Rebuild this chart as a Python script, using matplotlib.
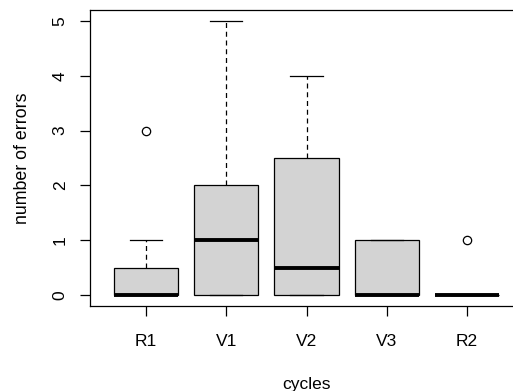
import matplotlib
matplotlib.use("Agg")
import matplotlib.pyplot as plt

categories = ["R1", "V1", "V2", "V3", "R2"]
q1 = [0, 0, 0, 0, 0]
medians = [0, 1, 0.5, 0, 0]
q3 = [0.5, 2, 2.5, 1, 0]
whislo = [0, 0, 0, 0, 0]
whishi = [1, 5, 4, 1, 0]
outliers = [[3], [], [], [], [1]]
yticks = [0, 1, 2, 3, 4, 5]

plt.rcParams['font.family'] = ['Liberation Sans', 'DejaVu Sans']

fig = plt.figure(figsize=(5.13, 3.91), dpi=100)
ax = fig.add_axes([90/513, 1-306/391, 433/513, 296/391])

stats = []
for i, c in enumerate(categories):
    stats.append(dict(label=c, q1=q1[i], med=medians[i], q3=q3[i],
                      whislo=whislo[i], whishi=whishi[i], fliers=outliers[i]))

ax.bxp(stats, positions=range(1, len(categories)+1), widths=0.8,
       patch_artist=True, showfliers=True,
       boxprops=dict(facecolor='#D3D3D3', edgecolor='black', linewidth=0.9),
       medianprops=dict(color='black', linewidth=2.8, solid_capstyle='butt'),
       whiskerprops=dict(color='black', linewidth=0.9, linestyle=(0, (4, 3))),
       capprops=dict(color='black', linewidth=0.9),
       capwidths=0.4,
       flierprops=dict(marker='o', markerfacecolor='none', markeredgecolor='black',
                       markersize=6, markeredgewidth=0.9))

ax.set_xlim(0.3, 5.7)
ax.set_ylim(-0.2, 5.2)
ax.set_yticks(yticks)
ax.set_yticklabels([str(t) for t in yticks], rotation=90, va='center')
ax.tick_params(axis='both', length=7, width=0.9, labelsize=12.5)
ax.tick_params(axis='x', pad=13)
ax.tick_params(axis='y', pad=9)
for s in ax.spines.values():
    s.set_linewidth(0.9)

ax.set_xlabel("cycles", fontsize=12.5, labelpad=20)
ax.set_ylabel("number of errors", fontsize=12.8, labelpad=16)

fig.savefig("out.png", dpi=100)
